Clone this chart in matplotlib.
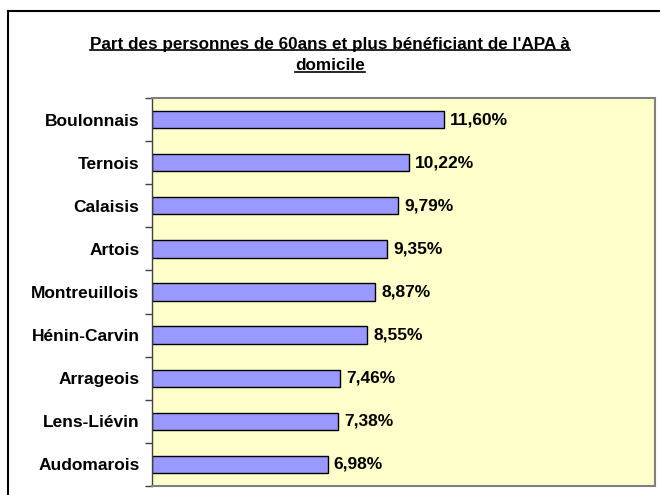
import matplotlib.pyplot as plt
from matplotlib.lines import Line2D

plt.rcParams['font.family'] = ['Liberation Sans', 'DejaVu Sans']

zones = ['Boulonnais', 'Ternois', 'Calaisis', 'Artois', 'Montreuillois',
         'Hénin-Carvin', 'Arrageois', 'Lens-Liévin', 'Audomarois']
parts = [11.60, 10.22, 9.79, 9.35, 8.87, 8.55, 7.46, 7.38, 6.98]
title_lines = ["Part des personnes de 60ans et plus bénéficiant de l'APA à", "domicile"]

W, H = 660, 495
fig = plt.figure(figsize=(W / 100, H / 100), dpi=100)
ax = fig.add_axes([152 / W, 1 - 486 / H, (655 - 152) / W, (486 - 98) / H])
ax.set_facecolor('#FFFFCC')

pos = list(range(len(zones)))
ax.barh(pos, parts, height=0.4, color='#9999FF', edgecolor='black', linewidth=1)
for y, v in zip(pos, parts):
    ax.annotate(f"{v:.2f}%".replace('.', ','), (v, y), xytext=(4.5, 0),
                textcoords='offset points', va='center', ha='left',
                fontsize=12.5, fontweight='bold')

ax.set_xlim(0, 20)
ax.set_ylim(len(zones) - 0.5, -0.5)
ax.set_xticks([])
ax.set_yticks(pos)
ax.set_yticklabels(zones, fontsize=12.5, fontweight='bold')
ax.tick_params(axis='y', length=0, pad=9)
ax.set_yticks([p - 0.5 for p in pos] + [len(zones) - 0.5], minor=True)
ax.tick_params(axis='y', which='minor', length=5, width=1, color='#404040')
for s in ['top', 'right', 'bottom']:
    ax.spines[s].set_color('#808080')
    ax.spines[s].set_linewidth(1.5)
ax.spines['left'].set_color('#404040')
ax.spines['left'].set_linewidth(1)

# outer chart border
fig.add_artist(Line2D([8 / W, 1], [1 - 11 / H, 1 - 11 / H], color='black', lw=1.5))
fig.add_artist(Line2D([8 / W, 8 / W], [0, 1 - 11 / H], color='black', lw=1.5))

# underlined title
renderer = fig.canvas.get_renderer()
for i, line in enumerate(title_lines):
    ty = 1 - (44 + i * 22) / H
    t = fig.text(0.5, ty, line, ha='center', va='center', fontsize=12.3, fontweight='bold')
    bb = t.get_window_extent(renderer)
    uy = (bb.y0 + 1.5) / H
    fig.add_artist(Line2D([bb.x0 / W, bb.x1 / W], [uy, uy], color='black', lw=1.2))

fig.savefig('out.png', dpi=100)
